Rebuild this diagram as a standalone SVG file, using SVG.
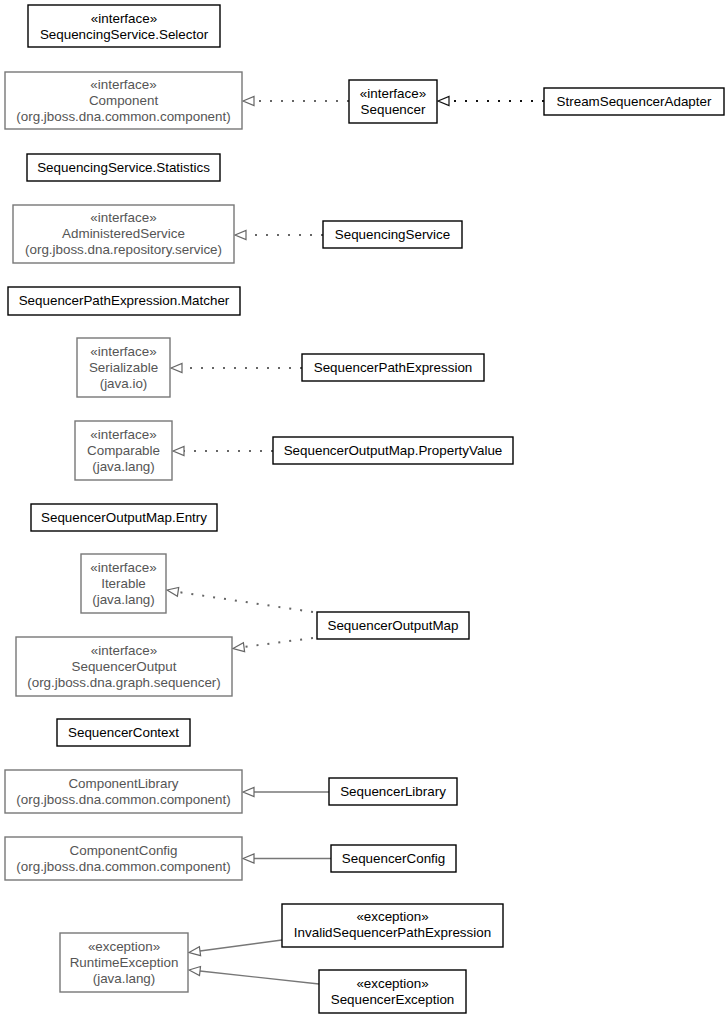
<svg xmlns="http://www.w3.org/2000/svg" width="728" height="1019" viewBox="0 0 728 1019">
<defs>
<style>
text{font-family:"Liberation Sans",Arial,sans-serif;font-size:13.4px;text-anchor:middle}
.n rect{fill:#fff;stroke:#000;stroke-width:1.4}
.g rect{fill:#fff;stroke:#777;stroke-width:1.4}
.g text{fill:#555}
.e{fill:none;stroke:#777;stroke-width:1.4}
.d{stroke-dasharray:2,9;stroke-width:2;stroke:#666}
.k{stroke:#111}
.h{fill:#fff;stroke:#666;stroke-width:1.2}
</style>
</defs>
<rect width="728" height="1019" fill="#fff"/>
<g id="connectors">
<line class="e d" x1="349" y1="101" x2="254" y2="101"/>
<path class="h" d="M243,101 L254,96.5 L254,105.5 Z"/>
<line class="e d k" x1="544" y1="101" x2="449" y2="101"/>
<path class="h" d="M438,101 L449,96.5 L449,105.5 Z" style="stroke:#111"/>
<line class="e d" x1="323" y1="235" x2="246" y2="235"/>
<path class="h" d="M235,235 L246,230.5 L246,239.5 Z"/>
<line class="e d" x1="302" y1="368" x2="182" y2="368"/>
<path class="h" d="M171,368 L182,363.5 L182,372.5 Z"/>
<line class="e d" x1="273" y1="451" x2="184" y2="451"/>
<path class="h" d="M173,451 L184,446.5 L184,455.5 Z"/>
<line class="e d" x1="313" y1="612" x2="178" y2="592"/>
<path class="h" d="M167,590 L178.7,587.4 L177.4,596.3 Z"/>
<line class="e d" x1="313" y1="638" x2="244" y2="647"/>
<path class="h" d="M233,648.5 L243.4,642.7 L244.6,651.6 Z"/>
<line class="e" x1="329" y1="792" x2="254" y2="792"/>
<path class="h" d="M243,792 L254,787.5 L254,796.5 Z"/>
<line class="e" x1="331" y1="858.5" x2="254" y2="858.5"/>
<path class="h" d="M243,858.5 L254,854 L254,863 Z"/>
<line class="e" x1="282" y1="940" x2="200" y2="951"/>
<path class="h" d="M189,952.5 L199.4,946.7 L200.6,955.6 Z"/>
<line class="e" x1="319" y1="984" x2="200" y2="971"/>
<path class="h" d="M189,970 L200.5,966.5 L199.5,975.5 Z"/>
</g>
<g id="n1" class="n"><rect x="28" y="5" width="192" height="42"/><text x="124" y="23">«interface»</text><text x="124" y="39">SequencingService.Selector</text></g>
<g id="n2" class="g"><rect x="5" y="72" width="237" height="57"/><text x="123.5" y="89">«interface»</text><text x="123.5" y="105">Component</text><text x="123.5" y="121">(org.jboss.dna.common.component)</text></g>
<g id="n3" class="n"><rect x="349" y="80" width="88" height="43"/><text x="393" y="98">«interface»</text><text x="393" y="114">Sequencer</text></g>
<g id="n4" class="n"><rect x="544" y="88" width="180" height="27"/><text x="634" y="106">StreamSequencerAdapter</text></g>
<g id="n5" class="n"><rect x="27" y="154" width="193" height="27"/><text x="123.5" y="172">SequencingService.Statistics</text></g>
<g id="n6" class="g"><rect x="13" y="205" width="221" height="58"/><text x="123.5" y="222">«interface»</text><text x="123.5" y="238">AdministeredService</text><text x="123.5" y="254">(org.jboss.dna.repository.service)</text></g>
<g id="n7" class="n"><rect x="323" y="221" width="139" height="27"/><text x="392.5" y="239">SequencingService</text></g>
<g id="n8" class="n"><rect x="8" y="287" width="232" height="28"/><text x="124" y="305">SequencerPathExpression.Matcher</text></g>
<g id="n9" class="g"><rect x="77" y="338" width="93" height="59"/><text x="123.5" y="356">«interface»</text><text x="123.5" y="372">Serializable</text><text x="123.5" y="388">(java.io)</text></g>
<g id="n10" class="n"><rect x="302" y="354" width="182" height="27"/><text x="393" y="372">SequencerPathExpression</text></g>
<g id="n11" class="g"><rect x="75" y="421" width="97" height="59"/><text x="123.5" y="439">«interface»</text><text x="123.5" y="455">Comparable</text><text x="123.5" y="471">(java.lang)</text></g>
<g id="n12" class="n"><rect x="273" y="437" width="240" height="27"/><text x="393" y="455">SequencerOutputMap.PropertyValue</text></g>
<g id="n13" class="n"><rect x="31" y="504" width="186" height="27"/><text x="124" y="522">SequencerOutputMap.Entry</text></g>
<g id="n14" class="g"><rect x="81" y="554" width="85" height="59"/><text x="123.5" y="572">«interface»</text><text x="123.5" y="588">Iterable</text><text x="123.5" y="604">(java.lang)</text></g>
<g id="n15" class="n"><rect x="317" y="612" width="152" height="27"/><text x="393" y="630">SequencerOutputMap</text></g>
<g id="n16" class="g"><rect x="16" y="637" width="216" height="59"/><text x="124" y="655">«interface»</text><text x="124" y="671">SequencerOutput</text><text x="124" y="687">(org.jboss.dna.graph.sequencer)</text></g>
<g id="n17" class="n"><rect x="57" y="719" width="133" height="27"/><text x="123.5" y="737">SequencerContext</text></g>
<g id="n18" class="g"><rect x="5" y="770" width="237" height="43"/><text x="123.5" y="788">ComponentLibrary</text><text x="123.5" y="804">(org.jboss.dna.common.component)</text></g>
<g id="n19" class="n"><rect x="329" y="778" width="128" height="27"/><text x="393" y="796">SequencerLibrary</text></g>
<g id="n20" class="g"><rect x="5" y="837" width="237" height="43"/><text x="123.5" y="855">ComponentConfig</text><text x="123.5" y="871">(org.jboss.dna.common.component)</text></g>
<g id="n21" class="n"><rect x="331" y="845" width="125" height="27"/><text x="393.5" y="863">SequencerConfig</text></g>
<g id="n22" class="n"><rect x="282" y="904" width="221" height="43"/><text x="392.5" y="921">«exception»</text><text x="392.5" y="937">InvalidSequencerPathExpression</text></g>
<g id="n23" class="g"><rect x="60" y="933" width="128" height="59"/><text x="124" y="951">«exception»</text><text x="124" y="967">RuntimeException</text><text x="124" y="983">(java.lang)</text></g>
<g id="n24" class="n"><rect x="319" y="970" width="147" height="43"/><text x="392.5" y="988">«exception»</text><text x="392.5" y="1004">SequencerException</text></g>
</svg>
